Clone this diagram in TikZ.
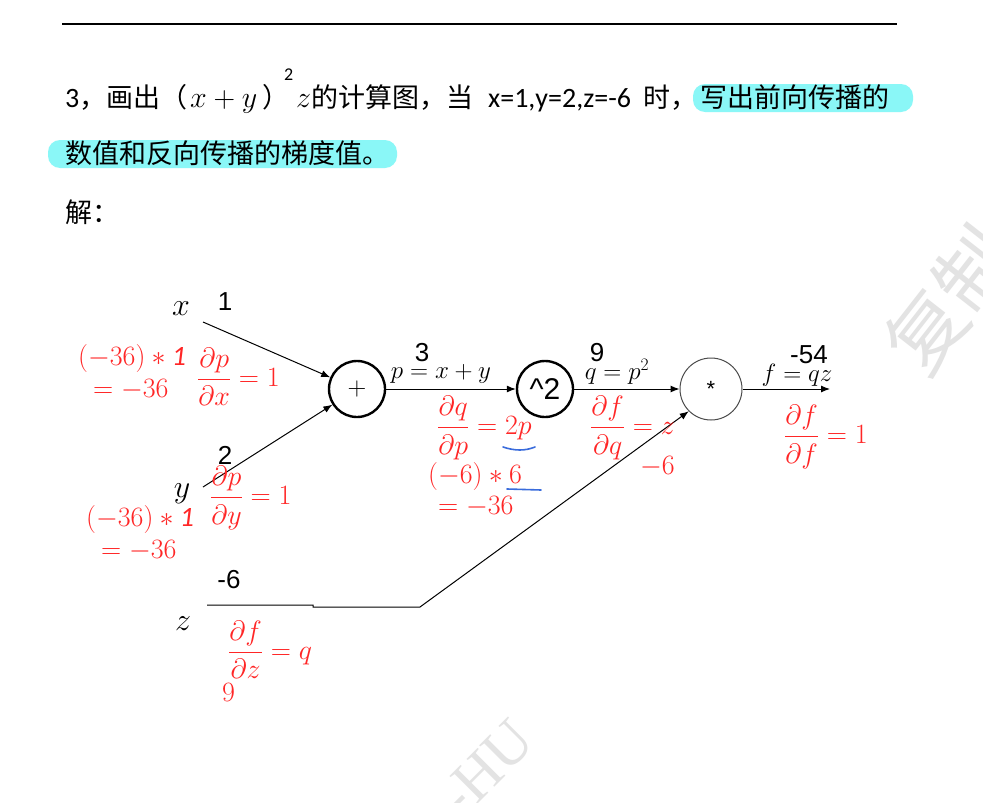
\documentclass[tikz,border=0pt]{standalone}
\usepackage{fix-cm}
\usepackage{amsmath}
\usepackage{fontspec}
\setmainfont{Carlito}
\newfontfamily\cjk{Noto Sans CJK SC}
\newfontfamily\arialfont{Liberation Sans}
\newfontfamily\wmfont{Liberation Serif}
\usetikzlibrary{arrows.meta,positioning}
\definecolor{GradRed}{HTML}{FF2626}
\definecolor{MarkCyan}{HTML}{8AF7F7}
\definecolor{PenBlue}{HTML}{3A6CDC}
\definecolor{MarkGray}{HTML}{E3E3E3}

\tikzset{
  opnode/.style={circle,draw,line width=2.4pt,minimum size=56pt,inner sep=0pt},
  valnum/.style={font=\arialfont\fontsize{26}{28}\selectfont,inner sep=0pt},
  varlbl/.style={font=\fontsize{32}{36}\selectfont,inner sep=0pt},
  eqlbl/.style={font=\fontsize{25}{27}\selectfont,inner sep=0pt},
  gradlbl/.style={text=GradRed,font=\fontsize{28}{32}\selectfont,inner sep=0pt,anchor=west},
  cnline/.style={line width=1pt},
  hilite/.style={fill=MarkCyan,rounded corners=12pt},
  cntext/.style={font=\cjk\fontsize{27}{30}\selectfont,inner sep=0pt,anchor=base west},
  entext/.style={font=\fontsize{28}{30}\selectfont,inner sep=0pt,anchor=base west},
}

\begin{document}
\begin{tikzpicture}[x=1pt,y=-1pt,>={Latex[length=9pt,width=7pt]}]
\useasboundingbox (0,0) rectangle (983,803);
\fill[white] (0,0) rectangle (983,803);

% watermark
\begin{scope}
\clip (0,0) rectangle (983,803);
\node[text=MarkGray,font=\cjk\fontsize{78}{80}\selectfont,rotate=52] (wmcn) at (950,300) {复制};
\node[text=MarkGray,font=\wmfont\fontsize{60}{62}\selectfont,rotate=45] (wmen) at (486,768) {-HU};
\end{scope}

% question
\draw[line width=1.5pt] (62,24) -- (897,24);
\node[entext] (q1) at (65,107) {3{\cjk\fontsize{27}{30}\selectfont ，画出（}};
\node[entext,font=\fontsize{30}{30}\selectfont] (q2) at (190,107) {$x+y$};
\node[cntext] (q3) at (262,107) {）};
\node[entext,font=\fontsize{18}{18}\selectfont] (q4) at (284,80) {2};
\node[entext,font=\fontsize{30}{30}\selectfont] (q5) at (296,107) {$z$\cjk\fontsize{27}{30}\selectfont 的计算图，当};
\node[entext] (q6) at (488,107) {x=1,y=2,z=-6};
\node[cntext] (q7) at (643,107) {时，};
\fill[hilite] (693,84) rectangle (913,112);
\node[cntext] (q8) at (700,107) {写出前向传播的};
\fill[hilite] (48,140) rectangle (397,168);
\node[cntext] (q9) at (65,163) {数值和反向传播的梯度值。};
\node[cntext] (ans) at (65,222) {解：};

% graph
\node[opnode] (plus) at (357,389) {\fontsize{26}{28}\selectfont$+$};
\node[opnode] (sq) at (545,389) {\arialfont\fontsize{30}{32}\selectfont\^{}2};
\node[circle,draw=black!70,line width=1pt,minimum size=62pt,inner sep=0pt] (mul) at (711,389)
  {\arialfont\fontsize{22}{24}\selectfont *};

\coordinate (xin) at (203,322);
\coordinate (yin) at (203,487);
\coordinate (zin) at (207,605);
\coordinate (zbend) at (420,607);
\coordinate (fout) at (830,389);

\draw[cnline,->] (xin) -- (plus);
\draw[cnline,->] (yin) -- (plus);
\draw[cnline,->] (plus) -- (sq);
\draw[cnline,->] (sq) -- (mul);
\draw[cnline,->] (mul) -- (fout);
\draw[cnline,->] (zin) -- (313,605) -- (313,607) -- (zbend) -- (mul.south west);

\node[varlbl] (xv) at (181,309) {$x$};
\node[varlbl] (yv) at (182,494) {$y$};
\node[varlbl] (zv) at (183,624) {$z$};

\node[valnum] (xval) at (225,302) {1};
\node[valnum] (yval) at (225,455) {2};
\node[valnum] (zval) at (229,580) {-6};
\node[valnum] (pval) at (422,353) {3};
\node[valnum] (qval) at (597,353) {9};
\node[valnum] (fval) at (809,355) {-54};

\node[eqlbl] (peq) at (441,374) {$p=x+y$};
\node[eqlbl] (qeq) at (617,372) {$q=p^2$};
\node[eqlbl] (feq) at (797,375) {$f=qz$};

% gradients
\node[gradlbl] (gx1) at (78,358) {$(-36)\ast\mathit{1}$};
\node[gradlbl] (gx2) at (93,390) {$=-36$};
\node[gradlbl] (dpx) at (197,377) {$\dfrac{\partial p}{\partial x}=1$};
\node[gradlbl] (gy1) at (86,519) {$(-36)\ast\mathit{1}$};
\node[gradlbl] (gy2) at (101,551) {$=-36$};
\node[gradlbl] (dpy) at (210,498) {$\dfrac{\partial p}{\partial y}=1$};
\node[gradlbl] (dqp) at (437,428) {$\dfrac{\partial q}{\partial p}=2p$};
\node[gradlbl] (gp1) at (428,476) {$(-6)\ast6$};
\node[gradlbl] (gp2) at (438,507) {$=-36$};
\node[gradlbl] (dfq) at (590,428) {$\dfrac{\partial f}{\partial q}=z$};
\node[gradlbl] (gq) at (640,467) {$-6$};
\node[gradlbl] (dff) at (784,437) {$\dfrac{\partial f}{\partial f}=1$};
\node[gradlbl] (dfz) at (228,650) {$\dfrac{\partial f}{\partial z}=q$};
\node[gradlbl] (gz) at (222,692) {$9$};

\draw[PenBlue,line width=1.6pt,line cap=round] (503,447) .. controls (515,451) and (525,451) .. (535,447);
\draw[PenBlue,line width=1.6pt,line cap=round] (507,489) -- (541,490);
\end{tikzpicture}
\end{document}
